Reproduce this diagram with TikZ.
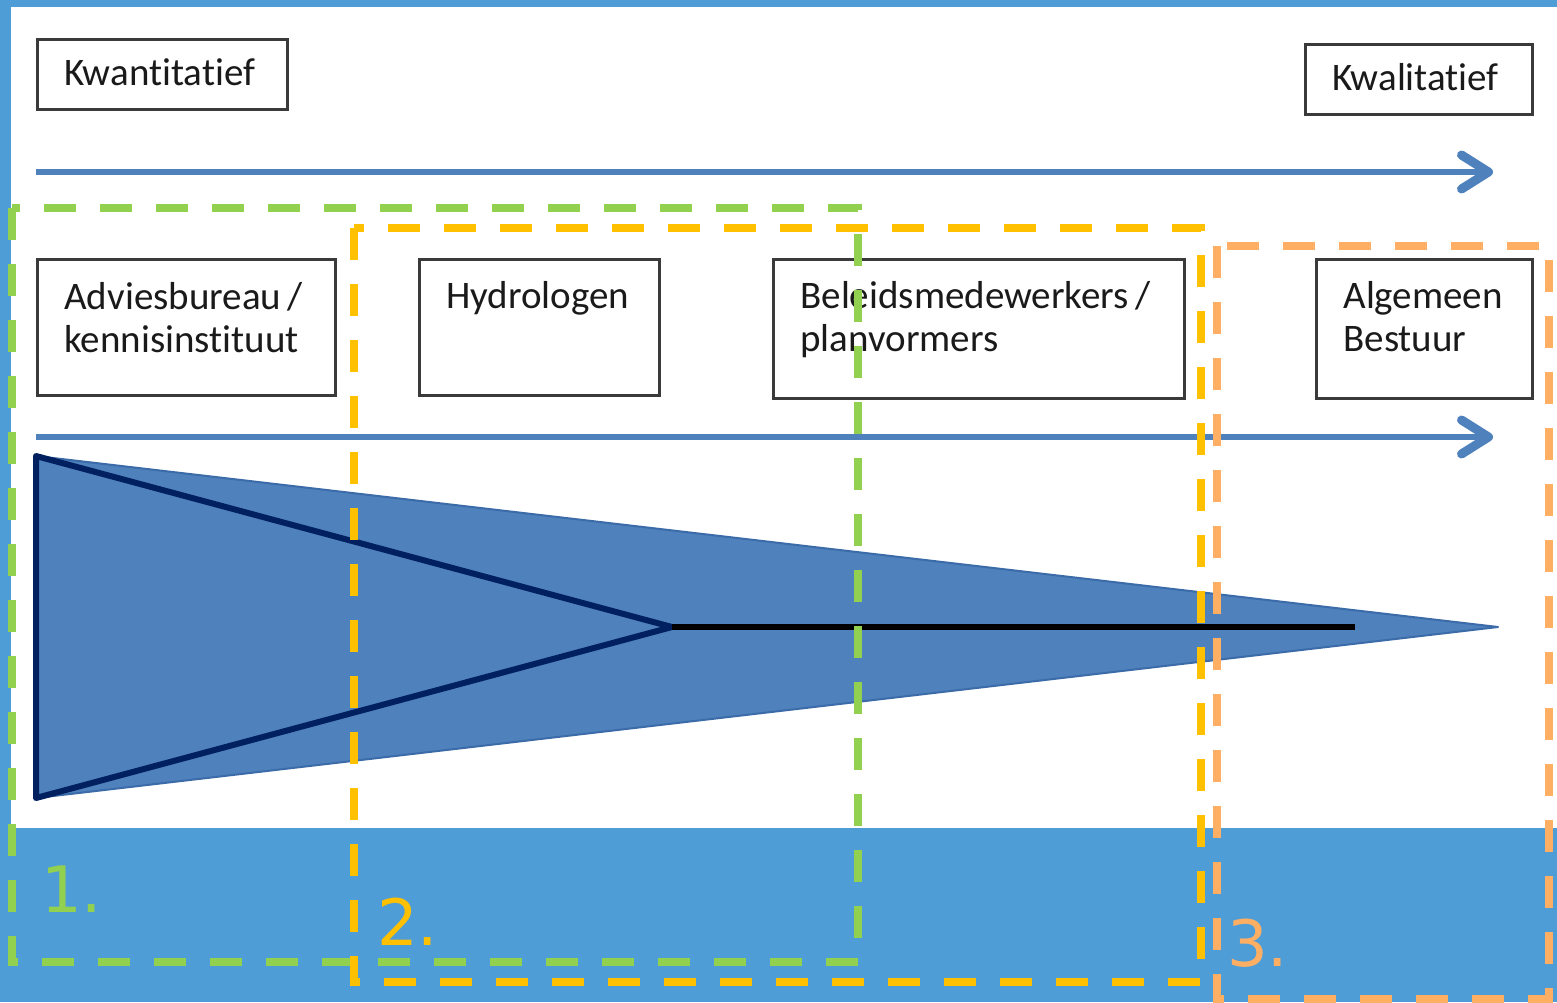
\documentclass[tikz,border=0pt]{standalone}
\usepackage{fontspec}
\newfontfamily\boxfont[Ligatures={NoCommon,NoContextual,NoDiscretionary}]{Carlito}
\newfontfamily\numfont{DejaVu Sans}
\usetikzlibrary{arrows.meta}

\definecolor{frameblue}{HTML}{4F9DD6}
\definecolor{arrowblue}{HTML}{4F81BD}
\definecolor{edgeblue}{HTML}{3B6BA8}
\definecolor{navy}{HTML}{002060}
\definecolor{boxline}{HTML}{3A3A3A}
\definecolor{boxtext}{HTML}{1A1A1A}
\definecolor{zonegreen}{HTML}{92D050}
\definecolor{zoneyellow}{HTML}{FFC000}
\definecolor{zoneorange}{HTML}{FFAF64}

\newcommand\boxsetup{\boxfont\fontsize{39}{43}\selectfont\hyphenpenalty=10000 \exhyphenpenalty=10000 \relax}
\newcommand\numsetup{\numfont\fontsize{64}{64}\selectfont}

\tikzset{
  box/.style={draw=boxline, line width=2.8pt, anchor=north west,
    inner xsep=27pt, inner ysep=0pt, align=left, text=boxtext,
    font=\boxsetup},
  scalearrow/.style={draw=arrowblue, line width=6pt,
    -{Straight Barb[length=27pt,width=34pt,round,line width=9pt]}},
  zone/.style={line width=7.5pt, dash pattern=on 32pt off 24pt},
  zonelabel/.style={anchor=base west, inner sep=0pt, font=\numsetup}
}

\begin{document}
\begin{tikzpicture}[x=1pt,y=-1pt]
\useasboundingbox (0,0) rectangle (1557,1002);

% frame and white canvas
\fill[frameblue] (0,0) rectangle (1557,1002);
\fill[white] (11,7) rectangle (1557,828);

% end labels of the scale
\node[box, text width=196pt, text height=46pt, text depth=24pt] (kwant) at (36,38) {Kwantitatief};
\node[box, text width=173pt, text height=46pt, text depth=24pt] (kwal) at (1304,43) {Kwalitatief};

% scale arrow
\coordinate (s1a) at (36,172);
\coordinate (s1b) at (1493,172);
\draw[scalearrow] (s1a) -- (s1b);

% actors
\node[box, text width=244pt, text height=50pt, text depth=86pt] (advies) at (36,258) {Adviesbureau\,/\\kennisinstituut};
\node[box, text width=186pt, text height=49pt, text depth=87pt] (hydro) at (418,258) {Hydrologen};
\node[box, text width=357pt, text height=49pt, text depth=90pt] (beleid) at (772,258) {Beleidsmedewerkers\,/\\planvormers};
\node[box, text width=162pt, text height=49pt, text depth=90pt] (bestuur) at (1315,258) {Algemeen\\Bestuur};

% second scale arrow
\coordinate (s2a) at (36,437);
\coordinate (s2b) at (1493,437);
\draw[scalearrow] (s2a) -- (s2b);

% wedge
\coordinate (wtop) at (36,456);
\coordinate (wbot) at (36,798);
\coordinate (wtip) at (1498,627);
\coordinate (wmid) at (672,627);
\coordinate (wend) at (1355,627);
\filldraw[fill=arrowblue, draw=edgeblue, line width=2pt, line join=round] (wtop) -- (wtip) -- (wbot) -- cycle;
\draw[navy, line width=6pt, line join=round, line cap=round] (wmid) -- (wtop) -- (wbot) -- cycle;
\draw[black, line width=6.5pt] (wmid) -- (wend);

% zones
\draw[zone, zonegreen] (12,208) rectangle (858,962);
\draw[zone, zoneyellow] (354,228) rectangle (1201,982);
\draw[zone, zoneorange] (1217,246) rectangle (1549,999);

\node[zonelabel, text=zonegreen] (z1) at (41,912) {1.};
\node[zonelabel, text=zoneyellow] (z2) at (377,945) {2.};
\node[zonelabel, text=zoneorange] (z3) at (1227,966) {3.};
\end{tikzpicture}
\end{document}
